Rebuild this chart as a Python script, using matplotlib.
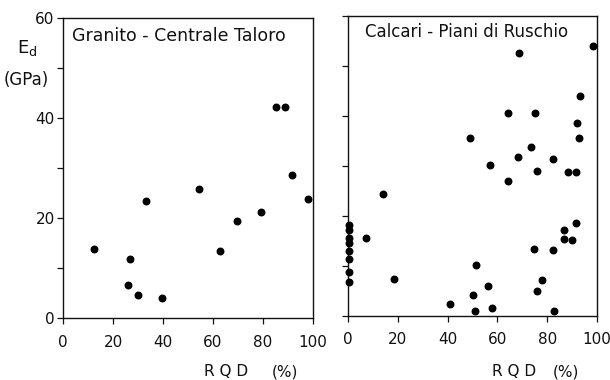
import matplotlib
matplotlib.use("Agg")
import matplotlib.pyplot as plt
import numpy as np

# === DATA ===
granito_rqd = [12.3, 26.0, 26.8, 30.0, 33.1, 39.7, 54.5, 62.8, 69.5, 79.2, 85.1, 88.8, 91.5, 98.1]
granito_ed = [13.9, 6.7, 11.9, 4.7, 23.4, 4.1, 25.9, 13.4, 19.5, 21.3, 42.3, 42.3, 28.7, 23.9]

calcari_rqd = [0.5, 0.5, 0.5, 0.5, 0.5, 0.5, 0.5, 0.5, 7.4, 13.9, 18.3,
               41.1, 49.0, 50.2, 51.1, 51.4, 56.4, 57.1, 58.0, 64.1, 64.4,
               68.1, 68.7, 73.6, 74.7, 75.2, 75.8, 75.9, 78.0, 82.2, 82.5,
               82.6, 86.7, 86.9, 88.2, 90.0, 91.6, 91.6, 92.0, 92.9, 93.2, 98.3]
calcari_ed = [18.1, 17.1, 15.6, 14.6, 12.9, 11.4, 8.7, 6.8, 15.5, 24.3, 7.4,
              2.4, 35.6, 4.2, 1.0, 10.1, 5.9, 30.1, 1.5, 27.0, 40.6,
              31.7, 52.5, 33.8, 13.3, 40.6, 5.0, 29.0, 7.1, 31.4, 13.1,
              1.0, 15.3, 17.1, 28.7, 15.1, 28.7, 18.5, 38.6, 35.6, 44.0, 53.9]

x_ticks = [0, 20, 40, 60, 80, 100]
y_ticks = [0, 20, 40, 60]
y_minor = [10, 30, 50]

plt.rcParams["font.family"] = ["DejaVu Sans"]
INK = "#111111"

fig = plt.figure(figsize=(6.1, 3.8), dpi=100)
ax1 = fig.add_axes([63 / 610, 1 - 318 / 380, 250 / 610, 300 / 380])
ax2 = fig.add_axes([348 / 610, 1 - 315.5 / 380, 249 / 610, 299.5 / 380])


def style_axes(ax, show_ylabels):
    ax.set_xlim(0, 100)
    ax.set_ylim(0, 60)
    ax.set_xticks(x_ticks)
    ax.set_xticklabels([str(t) for t in x_ticks], fontsize=11)
    ax.set_yticks(y_ticks)
    ax.set_yticks(y_minor, minor=True)
    if show_ylabels:
        ax.set_yticklabels([str(t) for t in y_ticks], fontsize=11)
    else:
        ax.set_yticklabels([])
    ax.tick_params(axis="both", which="both", direction="out", length=4,
                   width=0.9, color=INK, labelcolor=INK, pad=2)
    ax.tick_params(axis="x", pad=8)
    for sp in ax.spines.values():
        sp.set_linewidth(1.0)
        sp.set_color(INK)


ax1.scatter(granito_rqd, granito_ed, s=22, color="black", clip_on=False, zorder=3)
ax2.scatter(calcari_rqd, calcari_ed, s=22, color="black", clip_on=False, zorder=3)

style_axes(ax1, True)
style_axes(ax2, False)

ax1.text(0.035, 0.94, "Granito - Centrale Taloro", transform=ax1.transAxes,
         fontsize=12.5, va="center", ha="left", color=INK)
ax2.text(0.07, 0.945, "Calcari - Piani di Ruschio", transform=ax2.transAxes,
         fontsize=12, va="center", ha="left", color=INK)

# y-axis label, stacked left of the first panel
fig.text(17 / 610, 1 - 48 / 380, "E$_{\\mathregular{d}}$", fontsize=13,
         va="center", ha="left", color=INK)
fig.text(4 / 610, 1 - 80 / 380, "(GPa)", fontsize=12, va="center", ha="left",
         color=INK)

# x-axis labels
for x_rqd, x_pct in [(204, 272), (492, 553)]:
    fig.text(x_rqd / 610, 1 - 372 / 380, "R Q D", fontsize=11,
             va="center", ha="left", color=INK)
    fig.text(x_pct / 610, 1 - 372 / 380, "(%)", fontsize=11,
             va="center", ha="left", color=INK)

fig.savefig("out.png", dpi=100)
